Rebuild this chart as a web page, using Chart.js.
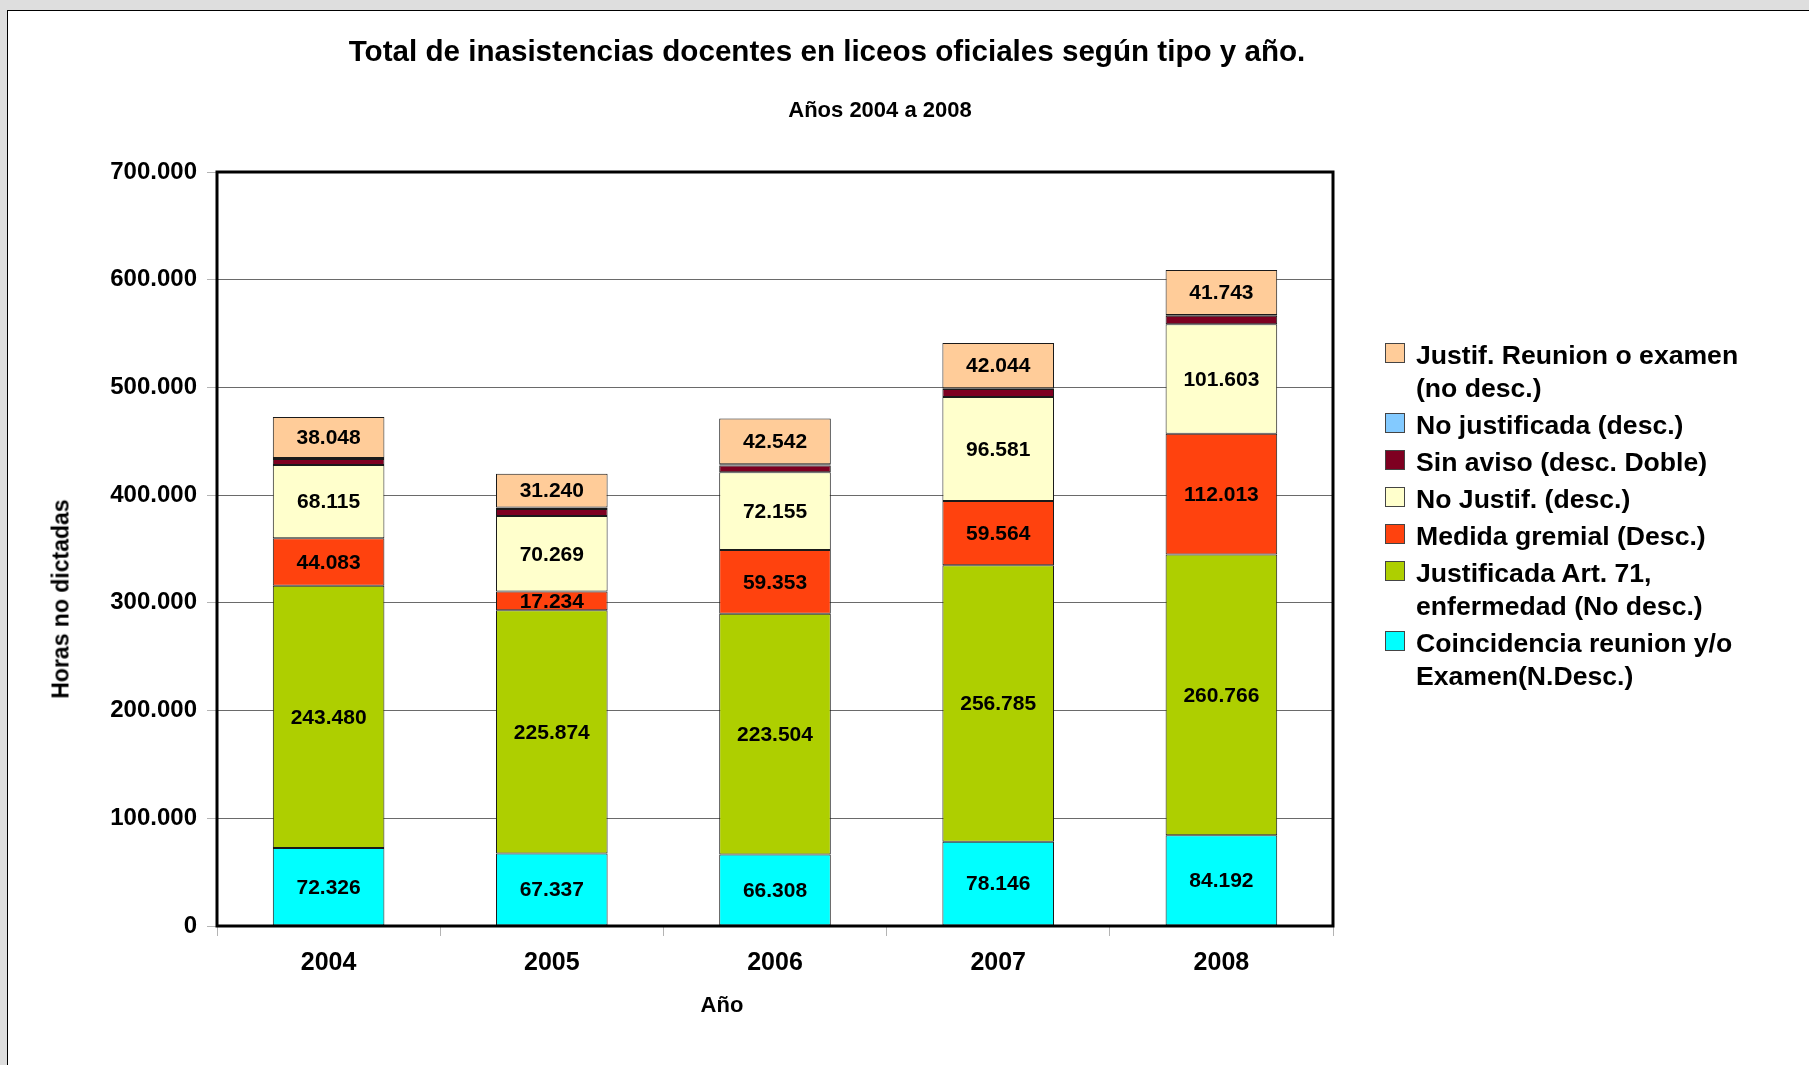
<!DOCTYPE html>
<html lang="es">
<head>
<meta charset="utf-8">
<title>Inasistencias docentes</title>
<script src="https://cdn.jsdelivr.net/npm/chart.js@4.4.1/dist/chart.umd.min.js"></script>
<style>
html, body { margin: 0; padding: 0; }
body {
    width: 1809px; height: 1065px; overflow: hidden; position: relative;
    background: #dedede; color: #000;
    font-family: 'Liberation Sans', Arial, sans-serif; font-weight: bold;
}
#hoja { position: absolute; left: 7px; top: 10px; width: 1830px; height: 1090px; background: #fff; border: 1px solid #000; }
#grafico { position: absolute; left: 0; top: 0; }
.texto { position: absolute; white-space: nowrap; transform: translate(-50%, -50%); }
#titulo    { left: 827px; top: 51px;  font-size: 29.6px; }
#subtitulo { left: 880px; top: 110px; font-size: 22px; }
#titulo-y  { left: 61px;  top: 599px; font-size: 23px; transform: translate(-50%, -50%) rotate(-90deg); }
#titulo-x  { left: 722px; top: 1005px; font-size: 22px; }
#leyenda { position: absolute; left: 1385px; top: 339px; font-size: 26.6px; line-height: 33px; }
.item { position: relative; padding-left: 31px; margin-bottom: 4px; white-space: nowrap; }
.caja { position: absolute; left: 0; top: 4px; width: 18px; height: 18px; border: 1px solid #444; }
</style>
</head>
<body>
<div id="hoja"></div>
<canvas id="grafico" width="1809" height="1065"></canvas>
<div class="texto" id="titulo">Total de inasistencias docentes en liceos oficiales según tipo y año.</div>
<div class="texto" id="subtitulo">Años 2004 a 2008</div>
<div class="texto" id="titulo-y">Horas no dictadas</div>
<div class="texto" id="titulo-x">Año</div>
<div id="leyenda"></div>

<script>
/* ─── Datos ──────────────────────────────────────────────────── */
const anios            = ['2004', '2005', '2006', '2007', '2008'];
const coincidencia     = [72326, 67337, 66308, 78146, 84192];
const justificadaArt71 = [243480, 225874, 223504, 256785, 260766];
const medidaGremial    = [44083, 17234, 59353, 59564, 112013];
const noJustif         = [68115, 70269, 72155, 96581, 101603];
const sinAviso         = [5600, 6400, 6300, 7400, 7900];
const noJustificada    = [900, 1500, 1000, 700, 800];
const justifReunion    = [38048, 31240, 42542, 42044, 41743];

const ejeYMax   = 700000;
const ejeYPaso  = 100000;

// Series de abajo hacia arriba en la pila
const SERIES = [
    { lineas: ['Coincidencia reunion y/o', 'Examen(N.Desc.)'],       datos: coincidencia,     color: '#00ffff', etiqueta: true },
    { lineas: ['Justificada Art. 71,', 'enfermedad (No desc.)'],    datos: justificadaArt71, color: '#aecf00', etiqueta: true },
    { lineas: ['Medida gremial (Desc.)'],                            datos: medidaGremial,    color: '#ff420e', etiqueta: true },
    { lineas: ['No Justif. (desc.)'],                                datos: noJustif,         color: '#ffffcc', etiqueta: true },
    { lineas: ['Sin aviso (desc. Doble)'],                           datos: sinAviso,         color: '#7e0021', etiqueta: false },
    { lineas: ['No justificada (desc.)'],                            datos: noJustificada,    color: '#83caff', etiqueta: false },
    { lineas: ['Justif. Reunion o examen', '(no desc.)'],           datos: justifReunion,    color: '#ffcc99', etiqueta: true },
];

function fmt(v) {
    return String(Math.round(v)).replace(/\B(?=(\d{3})+(?!\d))/g, '.');
}

const FUENTE = "'Liberation Sans', Arial, sans-serif";

/* ─── Etiquetas de valores y marco del área ─────────────────── */
const pluginEtiquetas = {
    id: 'etiquetasMarco',
    afterDatasetsDraw(chart) {
        const ctx = chart.ctx;
        const a = chart.chartArea;
        ctx.save();
        ctx.strokeStyle = '#000';
        ctx.lineWidth = 3;
        ctx.strokeRect(a.left, a.top, a.right - a.left, a.bottom - a.top);

        ctx.font = 'bold 21px ' + FUENTE;
        ctx.fillStyle = '#000';
        ctx.textAlign = 'center';
        ctx.textBaseline = 'middle';
        chart.data.datasets.forEach((ds, i) => {
            if (!ds.conEtiqueta) return;
            chart.getDatasetMeta(i).data.forEach((barra, j) => {
                const p = barra.getProps(['x', 'y', 'base'], true);
                ctx.fillText(fmt(ds.data[j]), p.x, (p.y + p.base) / 2 + 1);
            });
        });
        ctx.restore();
    },
};

const grafico = new Chart(document.getElementById('grafico'), {
    type: 'bar',
    data: {
        labels: anios,
        datasets: SERIES.map(s => ({
            label: s.lineas.join(' '),
            data: s.datos,
            backgroundColor: s.color,
            borderColor: '#1a1a1a',
            borderWidth: 1,
            borderSkipped: false,
            barPercentage: 0.5,
            categoryPercentage: 1.0,
            conEtiqueta: s.etiqueta,
        })),
    },
    options: {
        responsive: false,
        animation: false,
        layout: { padding: { top: 172, right: 476, bottom: 0, left: 0 } },
        plugins: {
            legend: { display: false },
            title: { display: false },
            tooltip: { enabled: false },
        },
        scales: {
            x: {
                stacked: true,
                grid: { offset: true, drawOnChartArea: false, drawTicks: true, tickLength: 10, tickColor: '#b4b4b4' },
                border: { display: false },
                ticks: { color: '#000', padding: 12, font: { family: FUENTE, size: 25, weight: 'bold' } },
                afterFit: s => { s.height = 139; },
            },
            y: {
                stacked: true,
                min: 0,
                max: ejeYMax,
                grid: { color: '#6a6a6a', lineWidth: 1, tickLength: 10, tickColor: '#b4b4b4' },
                border: { display: false },
                ticks: {
                    stepSize: ejeYPaso,
                    color: '#000',
                    padding: 10,
                    font: { family: FUENTE, size: 24, weight: 'bold' },
                    callback: v => fmt(v),
                },
                afterFit: s => { s.width = 217; },
            },
        },
    },
    plugins: [pluginEtiquetas],
});

/* ─── Leyenda HTML (orden inverso a la pila) ────────────────── */
const leyenda = document.getElementById('leyenda');
SERIES.slice().reverse().forEach(s => {
    const item = document.createElement('div');
    item.className = 'item';
    const caja = document.createElement('span');
    caja.className = 'caja';
    caja.style.background = s.color;
    item.appendChild(caja);
    s.lineas.forEach((l, k) => {
        if (k > 0) item.appendChild(document.createElement('br'));
        item.appendChild(document.createTextNode(l));
    });
    leyenda.appendChild(item);
});
</script>
</body>
</html>
